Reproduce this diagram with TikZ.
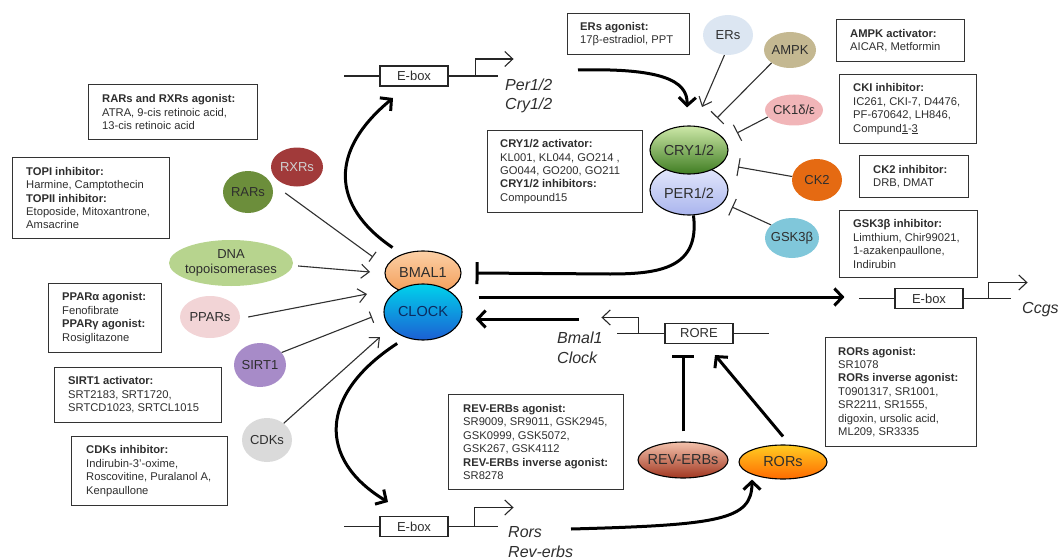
\documentclass[tikz,border=0pt]{standalone}
\usepackage{fontspec}
\setmainfont{Liberation Sans}
\usetikzlibrary{shapes.geometric,arrows.meta}
\definecolor{txtc}{HTML}{2E2E2E}
\definecolor{lnc}{HTML}{303030}
\definecolor{cRXR}{HTML}{A13A3A}
\definecolor{cRAR}{HTML}{6C8E3B}
\definecolor{cDNA}{HTML}{B7D48E}
\definecolor{cPPAR}{HTML}{F2D4D6}
\definecolor{cSIRT}{HTML}{A78BC8}
\definecolor{cCDK}{HTML}{DADADA}
\definecolor{cER}{HTML}{DCE6F2}
\definecolor{cAMPK}{HTML}{C4B891}
\definecolor{cCKone}{HTML}{F1B5B8}
\definecolor{cCKtwo}{HTML}{E56A12}
\definecolor{cGSK}{HTML}{80C7DA}
\definecolor{bmalT}{HTML}{FCD0A6}
\definecolor{bmalB}{HTML}{F29B55}
\definecolor{clockT}{HTML}{00D2EC}
\definecolor{clockB}{HTML}{1C5FD3}
\definecolor{cryT}{HTML}{CDE8A8}
\definecolor{cryB}{HTML}{3F7D22}
\definecolor{perT}{HTML}{E6EAFC}
\definecolor{perB}{HTML}{AAB5EE}
\definecolor{revT}{HTML}{F3C2AC}
\definecolor{revB}{HTML}{A13620}
\definecolor{rorT}{HTML}{FFCC22}
\definecolor{rorB}{HTML}{FF6A00}
\begin{document}
\begin{tikzpicture}[x=1pt,y=-1pt,
  soft/.style={ellipse, inner sep=0pt, draw=none},
  hard/.style={ellipse, inner sep=0pt, draw=black, line width=1.1pt},
  lblS/.style={font=\fontsize{13}{15}\selectfont, text=txtc, align=center},
  lblL/.style={font=\fontsize{14.5}{16}\selectfont, text=txtc},
  infobox/.style={draw=black!80, line width=1.1pt, rectangle, anchor=north west, inner sep=0pt},
  infotext/.style={anchor=west, align=left, inner sep=0pt, font=\fontsize{11.2}{13.4}\selectfont, text=txtc},
  genebox/.style={draw=black!85, line width=1.1pt, rectangle, minimum width=68pt, minimum height=20pt, inner sep=0pt, font=\fontsize{13}{15}\selectfont, text=txtc},
  gene/.style={draw=black!85, line width=1.1pt},
  prom/.style={gene, -{Straight Barb[length=8pt,width=15pt]}},
  gtext/.style={font=\fontsize{16}{19.5}\selectfont\itshape, align=left, anchor=west, inner sep=0pt, text=txtc},
  lnthin/.style={draw=lnc, line width=1.1pt},
  act/.style={lnthin, -{Straight Barb[length=8pt,width=14pt]}},
  inhL/.style={lnthin, -{Bar[width=12pt]}},
  inhR/.style={lnthin, -{Bar[width=18pt]}},
  lnthick/.style={draw=black, line width=3pt},
  tact/.style={lnthick, -{Straight Barb[length=8pt,width=17pt]}},
  tinh/.style={lnthick, -{Bar[width=22pt]}},
]
\useasboundingbox (0,0) rectangle (1062,559);

% ---------- info boxes ----------
\node[infobox, minimum width=169pt, minimum height=55pt] (rxrbox) at (88,84) {};
\node[infotext] (rxrtext) at ([xshift=14pt]rxrbox.west) {\textbf{RARs and RXRs agonist:}\\ATRA, 9-cis retinoic acid,\\13-cis retinoic acid};
\node[infobox, minimum width=157pt, minimum height=81pt] (topbox) at (12,157) {};
\node[infotext] (toptext) at ([xshift=14pt]topbox.west) {\textbf{TOPI inhibitor:}\\Harmine, Camptothecin\\\textbf{TOPII inhibitor:}\\Etoposide, Mitoxantrone,\\Amsacrine};
\node[infobox, minimum width=113pt, minimum height=69pt] (pparbox) at (48,283) {};
\node[infotext] (ppartext) at ([xshift=14pt]pparbox.west) {\textbf{PPARα agonist:}\\Fenofibrate\\\textbf{PPARγ agonist:}\\Rosiglitazone};
\node[infobox, minimum width=167pt, minimum height=55pt] (sirtbox) at (54,367) {};
\node[infotext] (sirttext) at ([xshift=14pt]sirtbox.west) {\textbf{SIRT1 activator:}\\SRT2183, SRT1720,\\SRTCD1023, SRTCL1015};
\node[infobox, minimum width=156pt, minimum height=69pt] (cdkbox) at (71,436) {};
\node[infotext] (cdktext) at ([xshift=15pt]cdkbox.west) {\textbf{CDKs inhibitor:}\\Indirubin-3'-oxime,\\Roscovitine, Puralanol A,\\Kenpaullone};
\node[infobox, minimum width=122pt, minimum height=41pt] (erbox) at (567,13) {};
\node[infotext] (ertext) at ([xshift=13pt]erbox.west) {\textbf{ERs agonist:}\\17β-estradiol, PPT};
\node[infobox, minimum width=155pt, minimum height=82pt] (crybox) at (487,130) {};
\node[infotext] (crytext) at ([xshift=13pt]crybox.west) {\textbf{CRY1/2 activator:}\\KL001, KL044, GO214 ,\\GO044, GO200, GO211\\\textbf{CRY1/2 inhibitors:}\\Compound15};
\node[infobox, minimum width=175pt, minimum height=95pt] (revbox) at (448,394) {};
\node[infotext] (revtext) at ([xshift=15pt]revbox.west) {\textbf{REV-ERBs agonist:}\\SR9009, SR9011, GSK2945,\\GSK0999, GSK5072,\\GSK267, GSK4112\\\textbf{REV-ERBs inverse agonist:}\\SR8278};
\node[infobox, minimum width=128pt, minimum height=42pt] (ampkbox) at (836,19) {};
\node[infotext] (ampktext) at ([xshift=14pt]ampkbox.west) {\textbf{AMPK activator:}\\AICAR, Metformin};
\node[infobox, minimum width=137pt, minimum height=69pt] (ckibox) at (839,74) {};
\node[infotext] (ckitext) at ([xshift=14pt]ckibox.west) {\textbf{CKI inhibitor:}\\IC261, CKI-7, D4476,\\PF-670642, LH846,\\Compund\underline{1}-\underline{3}};
\node[infobox, minimum width=109pt, minimum height=42pt] (cktwobox) at (859,155) {};
\node[infotext] (cktwotext) at ([xshift=14pt]cktwobox.west) {\textbf{CK2 inhibitor:}\\DRB, DMAT};
\node[infobox, minimum width=138pt, minimum height=67pt] (gskbox) at (839,210) {};
\node[infotext] (gsktext) at ([xshift=14pt]gskbox.west) {\textbf{GSK3β inhibitor:}\\Limthium, Chir99021,\\1-azakenpaullone,\\Indirubin};
\node[infobox, minimum width=151pt, minimum height=109pt] (rorbox) at (825,337) {};
\node[infotext] (rortext) at ([xshift=13pt]rorbox.west) {\textbf{RORs agonist:}\\SR1078\\\textbf{RORs inverse agonist:}\\T0901317, SR1001,\\SR2211, SR1555,\\digoxin, ursolic acid,\\ML209, SR3335};

% ---------- regulator ellipses ----------
\node[soft, fill=cRXR, minimum width=52pt, minimum height=39pt, label={[lblS, text=white!82!black]center:RXRs}] (rxrs) at (297,167) {};
\node[soft, fill=cRAR, minimum width=50pt, minimum height=42pt, label={[lblS]center:RARs}] (rars) at (248,192) {};
\node[soft, fill=cDNA, minimum width=124pt, minimum height=46pt, label={[lblS]center:DNA\\topoisomerases}] (dna) at (231,263) {};
\node[soft, fill=cPPAR, minimum width=60pt, minimum height=42pt, label={[lblS]center:PPARs}] (ppars) at (210,317) {};
\node[soft, fill=cSIRT, minimum width=52pt, minimum height=44pt, label={[lblS]center:SIRT1}] (sirt) at (260,365) {};
\node[soft, fill=cCDK, minimum width=50pt, minimum height=44pt, label={[lblS]center:CDKs}] (cdks) at (267,440) {};
\node[soft, fill=cER, minimum width=50pt, minimum height=40pt, label={[lblS]center:ERs}] (ers) at (728,35) {};
\node[soft, fill=cAMPK, minimum width=52pt, minimum height=36pt, label={[lblS]center:AMPK}] (ampk) at (790,50) {};
\node[soft, fill=cCKone, minimum width=58pt, minimum height=31pt, label={[lblS]center:CK1δ/ε}] (ckone) at (794,110) {};
\node[soft, fill=cCKtwo, minimum width=50pt, minimum height=42pt, label={[lblS]center:CK2}] (cktwo) at (817,180) {};
\node[soft, fill=cGSK, minimum width=54pt, minimum height=40pt, label={[lblS]center:GSK3β}] (gsk) at (792,238) {};

% ---------- core complexes ----------
\node[hard, top color=bmalT, bottom color=bmalB, minimum width=76pt, minimum height=44pt, label={[lblL]center:BMAL1}] (bmal) at (423,273) {};
\node[hard, top color=clockT, bottom color=clockB, minimum width=78pt, minimum height=56pt, label={[lblL, text=clockB!45!black]center:CLOCK}] (clock) at (423,312) {};
\node[hard, top color=perT, bottom color=perB, minimum width=78pt, minimum height=50pt, label={[lblL, yshift=-3pt]center:PER1/2}] (per) at (689,190) {};
\node[hard, top color=cryT, bottom color=cryB, minimum width=78pt, minimum height=48pt, label={[lblL]center:CRY1/2}] (cry) at (689,150) {};
\node[hard, top color=revT, bottom color=revB, minimum width=90pt, minimum height=36pt, label={[lblL]center:REV-ERBs}] (reverbs) at (683,460) {};
\node[hard, top color=rorT, bottom color=rorB, minimum width=88pt, minimum height=34pt, label={[lblL]center:RORs}] (rors) at (783,462) {};

% ---------- gene boxes ----------
\node[genebox] (ebtop) at (414,76) {E-box};
\draw[gene] (ebtop.west) -- ++(-35,0);
\draw[gene] (ebtop.east) -- ++(49,0);
\draw[prom] ([xshift=27pt]ebtop.east) |- ++(38,-17);
\node[gtext] (pertxt) at (505,96) {Per1/2\\Cry1/2};

\node[genebox] (ebbot) at (414,526.5) {E-box};
\draw[gene] (ebbot.west) -- ++(-35,0);
\draw[gene] (ebbot.east) -- ++(49,0);
\draw[prom] ([xshift=26pt]ebbot.east) |- ++(39,-19);
\node[gtext] (rorstxt) at (508,542) {Rors\\Rev-erbs};

\node[genebox] (ebccg) at (929,298.5) {E-box};
\draw[gene] (ebccg.west) -- ++(-35,0);
\draw[gene] (ebccg.east) -- ++(47,0);
\draw[prom] ([xshift=25pt]ebccg.east) |- ++(39,-16);
\node[gtext] (ccgtxt) at (1022,310) {Ccgs};

\node[genebox] (rore) at (699,333.5) {RORE};
\draw[gene] (rore.east) -- ++(35,0);
\draw[gene] (rore.west) -- ++(-47,0);
\draw[prom] ([xshift=-26pt]rore.west) |- ++(-37,-16);
\node[gtext] (bmaltxt) at (557,348) {Bmal1\\Clock};

% ---------- left regulators ----------
\coordinate (rarEnd) at (373,257);
\coordinate (dnaEnd) at (370,272);
\coordinate (pparEnd) at (367,294);
\coordinate (sirtEnd) at (372,317);
\coordinate (cdkEnd) at (380,337);
\draw[inhL] ([shift={(12,1)}]rars.east) -- (rarEnd);
\draw[act] ([shift={(5,3)}]dna.east) -- (dnaEnd);
\draw[act] ([xshift=8pt]ppars.east) -- (pparEnd);
\draw[inhL] (sirt.30) -- (sirtEnd);
\draw[act] (cdks.45) -- (cdkEnd);

% ---------- right regulators ----------
\coordinate (erEnd) at (702,107);
\coordinate (ampkEnd) at (717,118);
\coordinate (ckoneEnd) at (737,133);
\coordinate (cktwoEnd) at (738,167);
\coordinate (gskEnd) at (732,207);
\draw[act] (ers.-100) -- (erEnd);
\draw[inhR] (ampk.215) -- (ampkEnd);
\draw[inhR] (ckone.195) -- (ckoneEnd);
\draw[inhR] (cktwo.172) -- (cktwoEnd);
\draw[inhR] (gsk.148) -- (gskEnd);

% ---------- main loop ----------
\coordinate (ebTopTip) at (393,98);
\coordinate (ebBotTip) at (388,502);
\coordinate (cryStart) at (578,70);
\coordinate (rorsStart) at (571,529);
\coordinate (roreArrStart) at (579,319);
\coordinate (roreTip) at (715,355);
\draw[tact] ([shift={(-11,-6)}]bmal.135) .. controls (330,205) and (330,150) .. (ebTopTip);
\draw[tact] ([shift={(-8,6)}]clock.-125) .. controls (318,395) and (318,460) .. (ebBotTip);
\draw[tact] (cryStart) .. controls (660,68) and (688,80) .. ([shift={(-2,-18)}]cry.north);
\draw[tinh] (per.-80) .. controls (700,268) and (660,274) .. (610,274) -- ([xshift=14pt]bmal.east);
\draw[tact] ([shift={(16,-15)}]clock.east) -- ([shift={(-50,-1.5)}]ebccg.west);
\draw[tact] (roreArrStart) -- ([shift={(13,7)}]clock.east);
\draw[tinh] ([yshift=10pt]reverbs.north) -- ([yshift=-11pt]rore.south -| reverbs.north);
\draw[tact] ([yshift=8pt]rors.north) -- (roreTip);
\draw[tact] (rorsStart) .. controls (720,525) and (752,520) .. ([xshift=-31pt]rors.south);
\end{tikzpicture}
\end{document}
